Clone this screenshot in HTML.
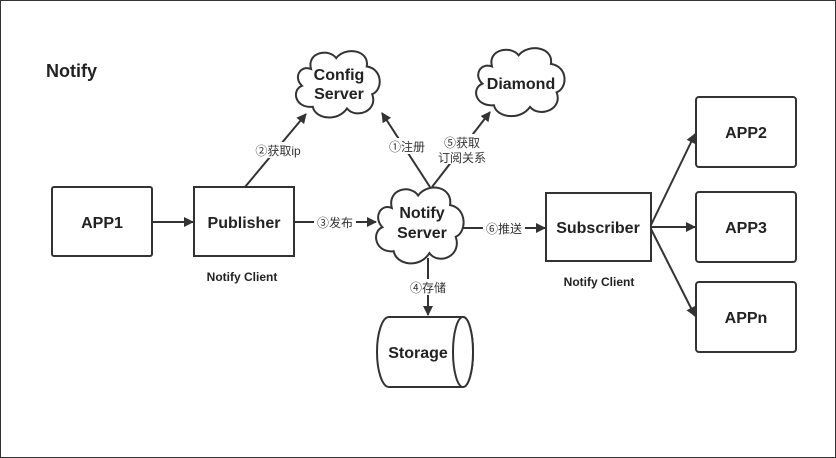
<!DOCTYPE html>
<html><head><meta charset="utf-8"><style>
html,body{margin:0;padding:0;background:#fff}
svg{display:block}
text{font-family:"Liberation Sans","Noto Sans CJK SC",sans-serif}
.b{font-weight:bold;font-size:16px;fill:#222}
.l{font-size:12px;fill:#333}
</style></head><body>
<svg width="836" height="458" viewBox="0 0 836 458" xmlns="http://www.w3.org/2000/svg">
<defs>
<marker id="a" markerWidth="10" markerHeight="10" refX="9" refY="5" orient="auto" markerUnits="userSpaceOnUse">
<path d="M0,0 L10,5 L0,10 Z" fill="#333"/></marker>
<path id="c" d="M20,25 C15,5 40,0 48,12 C58,-2 85,2 82,22 C100,25 100,50 88,55 C95,75 70,85 60,72 C50,88 25,85 22,70 C2,72 -2,50 10,45 C0,35 8,20 20,25 Z" fill="#fff" stroke="#333" stroke-width="2" vector-effect="non-scaling-stroke"/>
</defs>
<rect x="0.5" y="0.5" width="835" height="457" fill="#fff" stroke="#333" stroke-width="1"/>
<text x="46" y="77" class="b" style="font-size:18px">Notify</text>

<g stroke="#333" stroke-width="2" fill="none">
<line x1="152" y1="222" x2="193" y2="222" marker-end="url(#a)"/>
<line x1="294" y1="222" x2="376" y2="222" marker-end="url(#a)"/>
<line x1="245" y1="187" x2="306" y2="114" marker-end="url(#a)"/>
<line x1="430" y1="187" x2="382" y2="113" marker-end="url(#a)"/>
<line x1="432" y1="187" x2="490" y2="112" marker-end="url(#a)"/>
<line x1="428" y1="258" x2="428" y2="315" marker-end="url(#a)"/>
<line x1="463" y1="228" x2="545" y2="228" marker-end="url(#a)"/>
<line x1="651" y1="225" x2="695" y2="134" marker-end="url(#a)"/>
<line x1="651" y1="227" x2="695" y2="227" marker-end="url(#a)"/>
<line x1="651" y1="229" x2="695" y2="316" marker-end="url(#a)"/>
</g>

<g fill="#fff" stroke="#333" stroke-width="2">
<rect x="52" y="187" width="100" height="69" rx="2"/>
<rect x="194" y="187" width="100" height="69"/>
<rect x="546" y="193" width="105" height="68"/>
<rect x="696" y="97" width="100" height="70" rx="3"/>
<rect x="696" y="192" width="100" height="70" rx="3"/>
<rect x="696" y="282" width="100" height="70" rx="3"/>
<path d="M389,317 L463,317 A10,35 0 0 1 463,387 L389,387 A12,35 0 0 1 389,317 Z"/>
<ellipse cx="463" cy="352" rx="10" ry="35"/>
</g>
<use href="#c" transform="translate(293,48) scale(0.9,0.84)"/>
<use href="#c" transform="translate(473,45) scale(0.95,0.86)"/>
<use href="#c" transform="translate(373,184) scale(0.94,0.96)"/>

<g text-anchor="middle">
<text x="102" y="228" class="b">APP1</text>
<text x="244" y="228" class="b">Publisher</text>
<text x="598" y="233" class="b">Subscriber</text>
<text x="746" y="138" class="b">APP2</text>
<text x="746" y="233" class="b">APP3</text>
<text x="746" y="323" class="b">APPn</text>
<text x="418" y="358" class="b">Storage</text>
<text x="339" y="80" class="b">Config</text>
<text x="339" y="99" class="b">Server</text>
<text x="521" y="89" class="b">Diamond</text>
<text x="422" y="218" class="b">Notify</text>
<text x="422" y="238" class="b">Server</text>
<text x="242" y="281" style="font-size:12px;font-weight:bold;fill:#222">Notify Client</text>
<text x="599" y="286" style="font-size:12px;font-weight:bold;fill:#222">Notify Client</text>
</g>
<g text-anchor="middle" class="l">
<rect x="251" y="142" width="54" height="16" fill="#fff"/>
<text x="278" y="155">②获取ip</text>
<rect x="386" y="138" width="42" height="16" fill="#fff"/>
<text x="407" y="151">①注册</text>
<rect x="436" y="134" width="58" height="30" fill="#fff"/>
<text x="462" y="147">⑤获取</text>
<text x="462" y="162">订阅关系</text>
<rect x="314" y="214" width="42" height="16" fill="#fff"/>
<text x="335" y="227">③发布</text>
<rect x="407" y="279" width="42" height="16" fill="#fff"/>
<text x="428" y="292">④存储</text>
<rect x="483" y="220" width="42" height="16" fill="#fff"/>
<text x="504" y="233">⑥推送</text>
</g>
</svg>
</body></html>
